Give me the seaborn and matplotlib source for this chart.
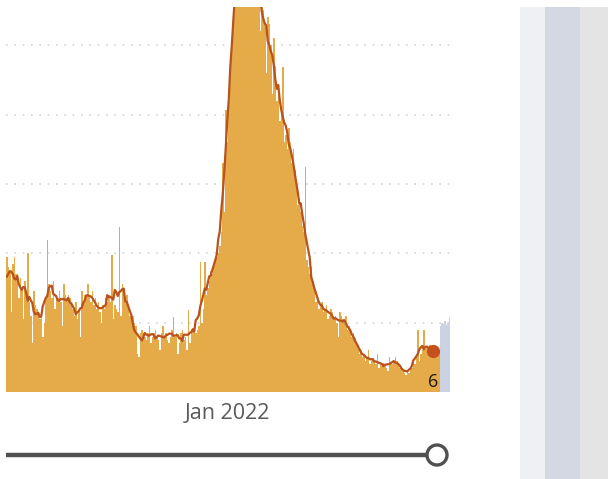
import numpy as np
import pandas as pd
import matplotlib
matplotlib.use("Agg")
import matplotlib.pyplot as plt
from matplotlib.patches import Rectangle, Circle
import seaborn as sns

# daily values, Aug 2021 -> May 2022 (one gridline = 1 unit)
START_DATE = "2021-08-07"
daily_cases = [
    1.95, 1.80, 1.75, 1.15, 1.85, 1.95, 1.70,
    1.70, 1.35, 1.65, 1.50, 1.05, 1.60, 1.45,
    2.00, 1.30, 1.10, 0.70, 1.45, 1.25, 1.20,
    1.10, 1.05, 1.15, 0.80, 1.00, 1.35, 2.19,
    1.55, 1.45, 1.35, 1.60, 1.20, 1.40, 1.35,
    1.45, 1.30, 0.95, 1.55, 1.40, 1.35, 1.40,
    1.35, 1.25, 1.20, 1.10, 1.30, 1.05, 1.15,
    0.80, 1.45, 1.30, 1.40, 1.35, 1.55, 1.40,
    1.30, 1.45, 1.25, 1.35, 1.20, 1.30, 1.15,
    1.00, 1.25, 1.20, 1.35, 1.30, 1.40, 1.30,
    1.97, 1.05, 1.25, 1.20, 1.15, 2.38, 1.10,
    1.55, 1.45, 1.35, 1.40, 1.20, 1.10, 1.05,
    1.10, 1.00, 0.95, 0.55, 0.50, 0.85, 0.90,
    0.85, 0.80, 0.75, 0.85, 0.95, 0.70, 0.80,
    0.85, 0.90, 0.80, 0.75, 0.60, 0.85, 0.95,
    0.80, 0.85, 0.75, 0.70, 0.80, 0.90, 1.08,
    0.80, 0.85, 0.55, 0.70, 0.85, 0.90, 0.75,
    0.80, 0.60, 1.18, 0.70, 0.85, 0.90, 0.95,
    0.85, 0.90, 0.95, 1.87, 1.00, 1.20, 1.87,
    1.40, 1.50, 1.60, 1.75, 1.70, 1.85, 1.95,
    1.95, 2.00, 2.10, 2.30, 3.30, 2.60, 4.06,
    3.60, 4.20, 4.60, 5.00, 5.40, 5.90, 6.20,
    6.10, 6.50, 6.30, 6.80, 6.40, 6.60, 6.70,
    6.50, 6.90, 6.20, 6.30, 6.00, 5.80, 6.10,
    5.80, 5.20, 5.90, 5.50, 5.30, 4.60, 5.40,
    5.30, 5.00, 4.30, 5.10, 4.70, 4.20, 4.40,
    3.90, 4.00, 4.68, 3.60, 3.70, 3.50, 3.80,
    3.60, 3.30, 3.50, 3.20, 3.00, 2.70, 2.80,
    2.60, 2.40, 2.30, 3.24, 1.90, 1.80, 1.70,
    1.80, 1.60, 1.50, 1.30, 1.40, 1.20, 1.25,
    1.30, 1.15, 1.20, 1.25, 1.05, 1.10, 1.20,
    1.15, 1.05, 1.10, 1.00, 0.80, 1.15, 1.10,
    1.05, 1.00, 1.10, 0.90, 0.95, 0.85, 0.80,
    0.85, 0.78, 0.70, 0.68, 0.55, 0.60, 0.50,
    0.55, 0.45, 0.50, 0.60, 0.40, 0.45, 0.48,
    0.45, 0.40, 0.55, 0.35, 0.40, 0.38, 0.42,
    0.40, 0.35, 0.30, 0.50, 0.42, 0.40, 0.45,
    0.50, 0.45, 0.40, 0.35, 0.38, 0.30, 0.28,
    0.25, 0.30, 0.28, 0.32, 0.35, 0.45, 0.40,
    0.50, 0.89, 0.45, 0.55, 0.60, 0.89, 0.62,
    0.65, 0.55, 0.68, 0.60, 0.50, 0.65, 0.55,
    0.62, 0.58,
    0.95, 1.00, 0.98, 1.02, 0.97, 1.00, 1.08,
]
INCOMPLETE_DAYS = 7      # most recent days, still being reported
AVG_TRAIL_CUT = 11       # avg line stops this many days before the end
TICK_DATE = "2022-01-01"
TICK_LABEL = "Jan 2022"
END_LABEL = "6"
GRID_LEVELS = [1, 2, 3, 4, 5]

BAR_COLOR = "#E5AB48"
INCOMPLETE_COLOR = "#CBD3E3"
LINE_COLOR = "#B9521D"

dates = pd.date_range(START_DATE, periods=len(daily_cases), freq="D")
n = len(dates)
df = pd.DataFrame({
    "day": dates.strftime("%Y-%m-%d"),
    "cases": daily_cases,
    "status": ["complete"] * (n - INCOMPLETE_DAYS) + ["incomplete"] * INCOMPLETE_DAYS,
})
complete = df[df.status == "complete"]
avg = complete.cases.rolling(7, center=True, min_periods=1).mean()
avg = avg.iloc[: n - AVG_TRAIL_CUT]

W, H = 608, 479
fig = plt.figure(figsize=(W / 100, H / 100), dpi=100)
fig.patch.set_facecolor("white")

# main chart
ax = fig.add_axes([6 / W, 1 - 392 / H, 444 / W, 385 / H])
sns.barplot(data=df, x="day", y="cases", hue="status",
            palette={"complete": BAR_COLOR, "incomplete": INCOMPLETE_COLOR},
            dodge=False, width=1.0, linewidth=0, saturation=1,
            legend=False, ax=ax, zorder=2)
for lvl in GRID_LEVELS:
    ax.axhline(lvl, color="#D4D4D4", lw=1.2, ls=(0, (1, 4)), zorder=1)
sns.lineplot(x=np.arange(len(avg)), y=avg.values, color=LINE_COLOR,
             linewidth=1.6, ax=ax, zorder=3)
ax.plot(len(avg) - 1, avg.values[-1], "o", color="#C4501C", ms=8.5, zorder=4)
ax.text(len(avg) - 0.5, 0.02, END_LABEL, ha="center", va="bottom",
        fontsize=13, color="#1a1a1a", family="Open Sans", zorder=5)

ax.set_xlim(-0.5, n - 0.5)
ax.set_ylim(0, 5.55)
tick_pos = list(df.day).index(TICK_DATE)
ax.set_xticks([tick_pos])
ax.set_xticklabels([TICK_LABEL], fontsize=15.5, color="#5a5a5a", family="Open Sans")
ax.tick_params(axis="x", length=0, pad=8)
ax.set_yticks([])
ax.set_xlabel("")
ax.set_ylabel("")
for s in ax.spines.values():
    s.set_visible(False)

# overlay in pixel units: range slider + side panels
ov = fig.add_axes([0, 0, 1, 1], zorder=-1)
ov.set_xlim(0, W)
ov.set_ylim(H, 0)
ov.axis("off")
ov.add_patch(Rectangle((520, 7), 25, H, color="#EEF0F4", lw=0))
ov.add_patch(Rectangle((545, 7), 35, H, color="#D3D8E3", lw=0))
ov.add_patch(Rectangle((580, 7), 28, H, color="#E4E4E4", lw=0))

top = fig.add_axes([0, 0, 1, 1], zorder=5)
top.set_xlim(0, W)
top.set_ylim(H, 0)
top.axis("off")
top.patch.set_alpha(0)
top.plot([6, 428], [455, 455], color="#505050", lw=3.2, solid_capstyle="butt")
top.add_patch(Circle((437, 455), 10, facecolor="white", edgecolor="#505050", lw=2.4))

fig.savefig("out.png", dpi=100)
